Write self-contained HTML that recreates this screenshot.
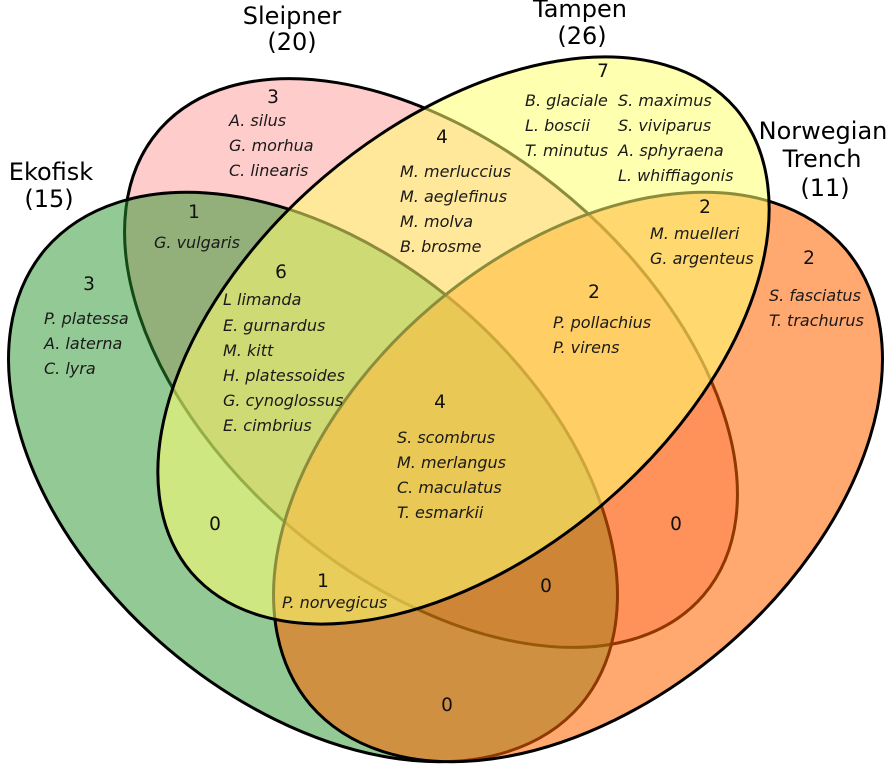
<!DOCTYPE html>
<html><head><meta charset="utf-8"><style>
html,body{margin:0;padding:0;background:#fff;width:893px;height:779px;overflow:hidden}
svg{display:block;position:absolute;left:0;top:0}
.t{font-family:"DejaVu Sans","Liberation Sans",sans-serif;font-size:24px;fill:#000;text-anchor:middle}
.n{font-family:"DejaVu Sans","Liberation Sans",sans-serif;font-size:18.5px;fill:#111;text-anchor:middle}
.s{font-family:"DejaVu Sans","Liberation Sans",sans-serif;font-size:16px;font-style:italic;fill:#1a1a1a}
</style></head><body>
<svg width="893" height="779" viewBox="0 0 893 779" xmlns="http://www.w3.org/2000/svg">
<rect width="893" height="779" fill="#fff"/>
<path d="M158.37 130.97 A358 216 40.4 0 1 703.63 595.03 A358 216 40.4 0 1 158.37 130.97 Z" fill="rgb(255,0,0)" fill-opacity="0.2" stroke="#000" stroke-width="3"/>
<path d="M45.32 249.19 A351.5 225.8 40.4 0 1 580.68 704.81 A351.5 225.8 40.4 0 1 45.32 249.19 Z" fill="rgb(39,147,41)" fill-opacity="0.5" stroke="#000" stroke-width="3"/>
<path d="M310.32 704.81 A351.5 225.8 -40.4 0 1 845.68 249.19 A351.5 225.8 -40.4 0 1 310.32 704.81 Z" fill="rgb(255,100,0)" fill-opacity="0.56" stroke="#000" stroke-width="3"/>
<path d="M191.10 572.33 A357.7 215.9 -40.4 0 1 735.90 108.67 A357.7 215.9 -40.4 0 1 191.10 572.33 Z" fill="rgb(255,255,111)" fill-opacity="0.55" stroke="#000" stroke-width="3"/>

<text class="t" x="292" y="24">Sleipner</text>
<text class="t" x="292" y="50">(20)</text>
<text class="t" x="51" y="180">Ekofisk</text>
<text class="t" x="49" y="207">(15)</text>
<text class="t" x="580" y="17">Tampen</text>
<text class="t" x="582" y="44">(26)</text>
<text class="t" x="823" y="139">Norwegian</text>
<text class="t" x="822" y="167">Trench</text>
<text class="t" x="825" y="196">(11)</text>

<text class="n" x="273" y="103">3</text>
<text class="n" x="194" y="218">1</text>
<text class="n" x="89" y="290">3</text>
<text class="n" x="281" y="278">6</text>
<text class="n" x="442" y="143">4</text>
<text class="n" x="603" y="77">7</text>
<text class="n" x="705" y="213">2</text>
<text class="n" x="809" y="264">2</text>
<text class="n" x="594" y="298">2</text>
<text class="n" x="440" y="408">4</text>
<text class="n" x="215" y="530">0</text>
<text class="n" x="323" y="587">1</text>
<text class="n" x="447" y="711">0</text>
<text class="n" x="546" y="592">0</text>
<text class="n" x="676" y="530">0</text>

<text class="s" x="229" y="126">A. silus</text>
<text class="s" x="229" y="151">G. morhua</text>
<text class="s" x="229" y="176">C. linearis</text>
<text class="s" x="154" y="248">G. vulgaris</text>
<text class="s" x="44" y="324">P. platessa</text>
<text class="s" x="44" y="349">A. laterna</text>
<text class="s" x="44" y="374">C. lyra</text>
<text class="s" x="223" y="305">L limanda</text>
<text class="s" x="223" y="331">E. gurnardus</text>
<text class="s" x="223" y="356">M. kitt</text>
<text class="s" x="223" y="381">H. platessoides</text>
<text class="s" x="223" y="406">G. cynoglossus</text>
<text class="s" x="223" y="431">E. cimbrius</text>
<text class="s" x="400" y="177">M. merluccius</text>
<text class="s" x="400" y="202">M. aeglefinus</text>
<text class="s" x="400" y="227">M. molva</text>
<text class="s" x="400" y="252">B. brosme</text>
<text class="s" x="525" y="106">B. glaciale</text>
<text class="s" x="525" y="131">L. boscii</text>
<text class="s" x="525" y="156">T. minutus</text>
<text class="s" x="618" y="106">S. maximus</text>
<text class="s" x="618" y="131">S. viviparus</text>
<text class="s" x="618" y="156">A. sphyraena</text>
<text class="s" x="618" y="181">L. whiffiagonis</text>
<text class="s" x="650" y="239">M. muelleri</text>
<text class="s" x="650" y="264">G. argenteus</text>
<text class="s" x="769" y="301">S. fasciatus</text>
<text class="s" x="769" y="326">T. trachurus</text>
<text class="s" x="553" y="328">P. pollachius</text>
<text class="s" x="553" y="353">P. virens</text>
<text class="s" x="397" y="443">S. scombrus</text>
<text class="s" x="397" y="468">M. merlangus</text>
<text class="s" x="397" y="493">C. maculatus</text>
<text class="s" x="397" y="518">T. esmarkii</text>
<text class="s" x="282" y="608">P. norvegicus</text>
</svg>
</body></html>
